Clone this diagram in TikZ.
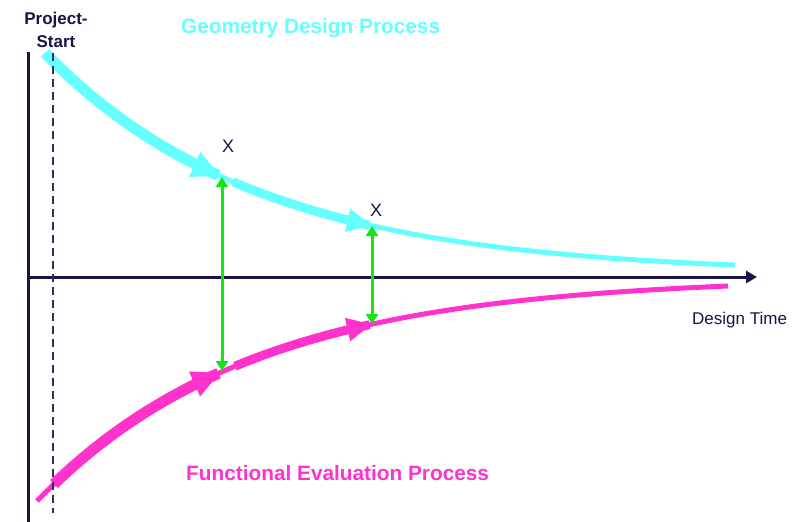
\documentclass[tikz,border=0pt]{standalone}
\usepackage{fontspec}
\setmainfont{Liberation Sans}
\usetikzlibrary{arrows.meta}
\definecolor{navy}{RGB}{26,20,70}
\definecolor{geocyan}{RGB}{102,255,255}
\definecolor{funcmag}{RGB}{255,51,204}
\definecolor{arrgreen}{RGB}{20,230,20}
\begin{document}
\begin{tikzpicture}[x=1pt,y=-1pt,
  axisline/.style={navy, line width=3pt},
  dashline/.style={navy!90!white, line width=2.4pt, dash pattern=on 8pt off 5pt},
  geothin/.style={geocyan, line width=5pt},
  geothickA/.style={geocyan, line width=11pt, -{Triangle[length=29pt,width=25pt]}},
  geothickB/.style={geocyan, line width=9pt, -{Triangle[length=25pt,width=22pt]}},
  funthin/.style={funcmag, line width=5pt},
  funthickA/.style={funcmag, line width=11pt, -{Triangle[length=29pt,width=25pt]}},
  funthickB/.style={funcmag, line width=9pt, -{Triangle[length=25pt,width=22pt]}},
  linkarrow/.style={arrgreen, line width=3pt, {Triangle[length=10pt,width=12pt]}-{Triangle[length=10pt,width=12pt]}},
  title/.style={font=\bfseries\fontsize{20.8}{24}\selectfont, inner sep=0pt},
  smalllabel/.style={navy, inner sep=0pt, font=\fontsize{17}{20}\selectfont},
  xmark/.style={navy, inner sep=0pt, font=\fontsize{18}{21}\selectfont}
]
\useasboundingbox (0,0) rectangle (798,522);

% axes
\coordinate (origin) at (28,277);
\coordinate (xend) at (757,277);
\coordinate (ytop) at (28,52);
\coordinate (ybot) at (28,522);
\draw[axisline] (ybot) -- (ytop);
\draw[axisline, -{Triangle[length=11pt,width=12pt]}] (origin) -- (xend);

% geometry design process (cyan)
\draw[geothin] plot[domain=45:735, samples=120] (\x, {274-221*exp(-(\x-45)/215)});
\draw[geothickA] plot[domain=45:221, samples=70] (\x, {274-221*exp(-(\x-45)/215)});
\draw[geothickB] plot[domain=233:372, samples=60] (\x, {274-221*exp(-(\x-45)/215)});

% functional evaluation process (magenta)
\draw[funthin] plot[domain=37:728, samples=120] (\x, {277+224*exp(-(\x-37)/215)});
\draw[funthickA] plot[domain=54:221, samples=70] (\x, {277+224*exp(-(\x-37)/215)});
\draw[funthickB] plot[domain=235:372, samples=60] (\x, {277+224*exp(-(\x-37)/215)});

% project start dashed line
\coordinate (dtop) at (53,53);
\coordinate (dbot) at (53,513);
\draw[dashline] (dtop) -- (dbot);

% green links
\coordinate (geoA) at (222,177);
\coordinate (funA) at (222,371);
\coordinate (geoB) at (372,226);
\coordinate (funB) at (372,324);
\draw[linkarrow] (geoA) -- (funA);
\draw[linkarrow] (geoB) -- (funB);

% texts
\node[navy, anchor=north, align=center, inner sep=0pt, font=\bfseries\fontsize{17}{23}\selectfont] (start) at (56,12) {Project-\\Start};
\node[title, geocyan, anchor=base west] (geotitle) at (181,33) {Geometry Design Process};
\node[title, funcmag, anchor=base west] (funtitle) at (186,480) {Functional Evaluation Process};
\node[smalllabel, anchor=base west] (dtime) at (692,324) {Design Time};
\node[xmark, anchor=base] (xa) at (228,152) {X};
\node[xmark, anchor=base] (xb) at (376,216) {X};
\end{tikzpicture}
\end{document}
